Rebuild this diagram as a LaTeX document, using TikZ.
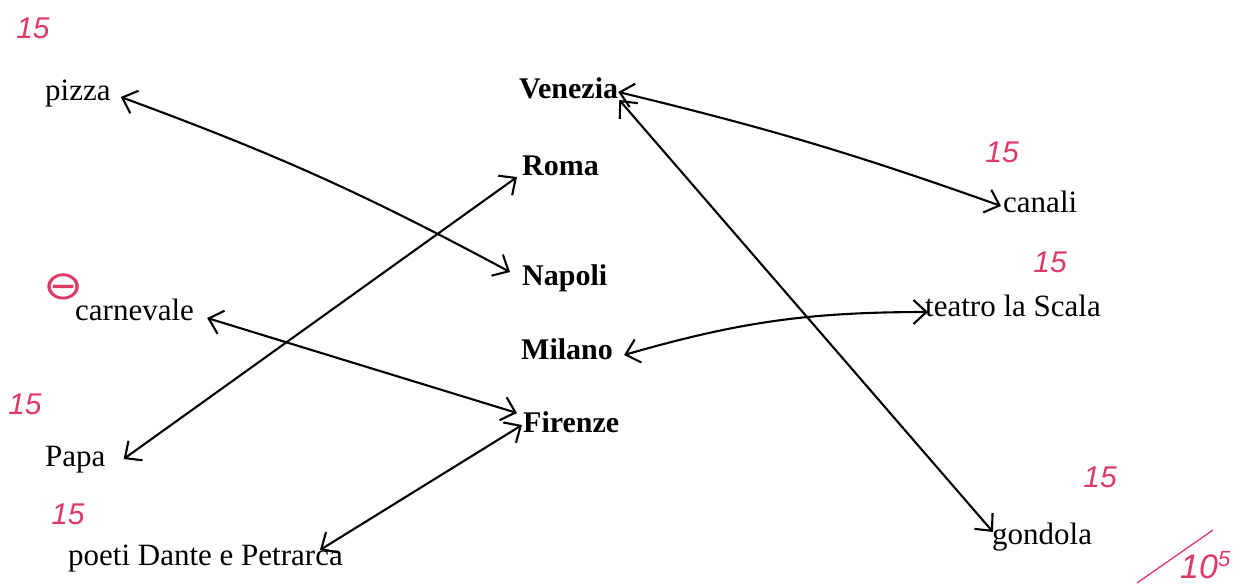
\documentclass[tikz,border=0pt]{standalone}
\usepackage{fontspec}
\setmainfont{Liberation Serif}
\newfontfamily\handfont{Liberation Sans}
\newfontfamily\symfont{DejaVu Sans}
\usetikzlibrary{arrows.meta,calc}
\definecolor{markred}{RGB}{222,58,104}
\begin{document}
\begin{tikzpicture}[x=1pt,y=-1pt,
  lbl/.style={font=\fontsize{31}{34}\selectfont, inner sep=2pt, anchor=base west},
  city/.style={lbl, font=\fontsize{30}{34}\selectfont\bfseries},
  link/.style={line width=2.1pt, line cap=round,
    {Straight Barb[length=13pt,width=24pt,line width=2.1pt]}-{Straight Barb[length=13pt,width=24pt,line width=2.1pt]}},
  grade/.style={text=markred, font=\handfont\itshape\fontsize{30}{32}\selectfont, inner sep=0pt}]
\useasboundingbox[fill=white] (0,0) rectangle (1253,586);

% left column
\node[lbl] (pizza) at (43,100) {pizza};
\node[lbl] (carnevale) at (73,320) {carnevale};
\node[lbl] (papa) at (43,466) {Papa};
\node[lbl] (poeti) at (66,565) {poeti Dante e Petrarca};
% middle column
\node[city] (venezia) at (517,99) {Venezia};
\node[city] (roma) at (520,175) {Roma};
\node[city] (napoli) at (520,285) {Napoli};
\node[city] (milano) at (519,359) {Milano};
\node[city] (firenze) at (521,432) {Firenze};
% right column
\node[lbl] (canali) at (1001,212) {canali};
\node[lbl] (teatro) at (923,316) {teatro la Scala};
\node[lbl] (gondola) at (990,544) {gondola};

% connectors
\draw[link] ($(pizza.base east)+(8,-3)$) to[bend left=4] ($(napoli.base west)+(-10,-13)$);
\draw[link] ($(venezia.base east)+(-2,-7)$) to[bend left=3] ($(canali.base west)+(0,-6)$);
\draw[link] ($(venezia.base east)+(-1,1)$) -- ($(gondola.base west)+(3,-12)$);
\draw[link] ($(roma.base west)+(-3,2)$) -- ($(papa.base east)+(16,-7)$);
\draw[link] ($(carnevale.base east)+(11,-2)$) -- ($(firenze.base west)+(-4,-19)$);
\draw[link] ($(milano.base east)+(9,-4)$) to[bend left=8] ($(teatro.base west)+(5,-4)$);
\draw[link] ($(firenze.base west)+(1,-7)$) -- ($(poeti.base east)+(-25,-15)$);

% red grades
\node[grade] (g1) at (33,28) {15};
\node[grade] (g2) at (1002,152) {15};
\node[grade] (g3) at (1050,262) {15};
\node[text=markred, font=\symfont\fontsize{40}{40}\selectfont, inner sep=0pt, xscale=1.2] (g4) at (64,287) {⊖};
\node[grade] (g5) at (25,404) {15};
\node[grade] (g6) at (68,514) {15};
\node[grade] (g7) at (1100,477) {15};
\node[grade, font=\handfont\itshape\fontsize{34}{36}\selectfont, anchor=base west] (total) at (1180,578) {10\raisebox{12pt}{\fontsize{22}{22}\selectfont 5}};
\draw[markred, line width=1.3pt] (1137,583) -- (1213,530);
\end{tikzpicture}
\end{document}
